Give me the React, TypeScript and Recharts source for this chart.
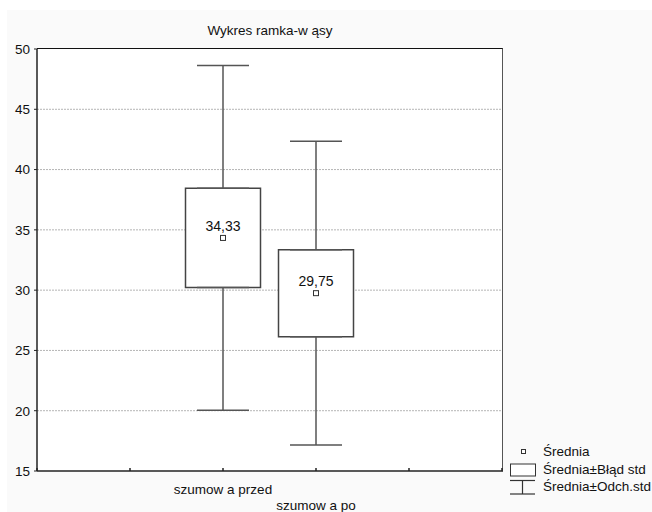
import { ComposedChart, Bar, Scatter, ErrorBar, XAxis, YAxis, CartesianGrid } from 'recharts';

// groups and their summary statistics
const categories = ['szumow a przed', 'szumow a po'];
const positions = [2, 3];
const means = [34.33, 29.75];
const stdErrors = [4.12, 3.61];
const stdDevs = [14.3, 12.6];

const yTicks = [15, 20, 25, 30, 35, 40, 45, 50];
const xTicks = [0, 1, 2, 3, 4, 5];

// whiskers are split at the box edges so the box never shows a line through it
const rows = categories.map((name, i) => ({
  name,
  x: positions[i],
  mean: means[i],
  box: [means[i] - stdErrors[i], means[i] + stdErrors[i]],
  boxHi: means[i] + stdErrors[i],
  boxLo: means[i] - stdErrors[i],
  upErr: [0, stdDevs[i] - stdErrors[i]],
  downErr: [stdDevs[i] - stdErrors[i], 0],
}));

const FONT = '"Liberation Sans", Arial, sans-serif';

const CategoryTick = ({ x, y, payload }: any) => {
  const idx = positions.indexOf(payload.value);
  if (idx < 0) return null;
  return (
    <text x={x} y={y + 24 + idx * 16} textAnchor="middle" fontSize={13.5} fill="#111" fontFamily={FONT}>
      {categories[idx]}
    </text>
  );
};

const MeanMarker = ({ cx, cy, payload }: any) => (
  <g>
    <rect x={cx - 2.5} y={cy - 2.5} width={5} height={5} fill="#fff" stroke="#333" strokeWidth={1} />
    <text x={cx} y={cy - 7} textAnchor="middle" fontSize={14} fill="#111" fontFamily={FONT}>
      {payload.mean.toFixed(2).replace('.', ',')}
    </text>
  </g>
);

const legendItems = ['Średnia', 'Średnia±Błąd std', 'Średnia±Odch.std'];

const LegendBox = () => (
  <div style={{ position: 'absolute', left: 509, top: 443, fontFamily: FONT, fontSize: 13.5, color: '#111', whiteSpace: 'nowrap' }}>
    {legendItems.map((label, i) => (
      <div key={label} style={{ display: 'flex', alignItems: 'center', height: 17.5 }}>
        <svg width={34} height={17.5} style={{ flex: 'none' }}>
          {i === 0 && <rect x={12.5} y={6.5} width={4} height={4} fill="#fff" stroke="#333" />}
          {i === 1 && <rect x={1.5} y={3} width={25} height={12} fill="#fff" stroke="#333" />}
          {i === 2 && (
            <g stroke="#333" strokeWidth={1.2}>
              <line x1={1} x2={26} y1={2.5} y2={2.5} />
              <line x1={13.5} x2={13.5} y1={2.5} y2={16} />
              <line x1={1} x2={26} y1={16} y2={16} />
            </g>
          )}
        </svg>
        <span>{label}</span>
      </div>
    ))}
  </div>
);

export default function App() {
  return (
    <div style={{ position: 'absolute', left: 0, top: 0, width: 652, height: 512, overflow: 'hidden', background: '#fff' }}>
      <div style={{ position: 'absolute', left: 7, top: 10, right: 0, bottom: 0, background: '#fafafa' }} />
      {/* white plot panel with the top and right frame edges */}
      <div
        style={{
          position: 'absolute',
          left: 37,
          top: 48,
          width: 466,
          height: 424,
          boxSizing: 'border-box',
          background: '#fff',
          borderTop: '1.5px solid #111',
          borderRight: '1.5px solid #555',
        }}
      />
      <div style={{ position: 'absolute', left: 0, top: 0 }}>
        <ComposedChart width={652} height={512} data={rows} margin={{ top: 49, right: 150, bottom: 0, left: 0 }}>
          <text x={270} y={35} textAnchor="middle" fontSize={13.5} fill="#111" fontFamily={FONT}>
            Wykres ramka-w ąsy
          </text>
          <CartesianGrid vertical={false} horizontalValues={[20, 25, 30, 35, 40, 45]} stroke="#b5b5b5" strokeDasharray="2 1" />
          <XAxis
            type="number"
            dataKey="x"
            domain={[0, 5]}
            ticks={xTicks}
            height={41}
            axisLine={{ stroke: '#222', strokeWidth: 1.5 }}
            tickLine={{ stroke: '#222', strokeWidth: 1.5 }}
            tickSize={-3}
            tick={<CategoryTick />}
            interval={0}
          />
          <YAxis
            type="number"
            domain={[15, 50]}
            ticks={yTicks}
            width={37}
            allowDataOverflow
            axisLine={{ stroke: '#222', strokeWidth: 1.5 }}
            tickLine={{ stroke: '#222' }}
            tickSize={3}
            tickMargin={4}
            tick={{ fontSize: 13.5, fill: '#111', fontFamily: FONT }}
            interval={0}
          />
          <Scatter dataKey="boxHi" shape={() => <g />} isAnimationActive={false}>
            <ErrorBar dataKey="upErr" direction="y" width={26} stroke="#555" strokeWidth={1.5} isAnimationActive={false} />
          </Scatter>
          <Scatter dataKey="boxLo" shape={() => <g />} isAnimationActive={false}>
            <ErrorBar dataKey="downErr" direction="y" width={26} stroke="#555" strokeWidth={1.5} isAnimationActive={false} />
          </Scatter>
          <Bar dataKey="box" barSize={75} fill="#fff" stroke="#444" strokeWidth={1.5} isAnimationActive={false} />
          <Scatter dataKey="mean" shape={<MeanMarker />} isAnimationActive={false} />
        </ComposedChart>
      </div>
      <LegendBox />
    </div>
  );
}
